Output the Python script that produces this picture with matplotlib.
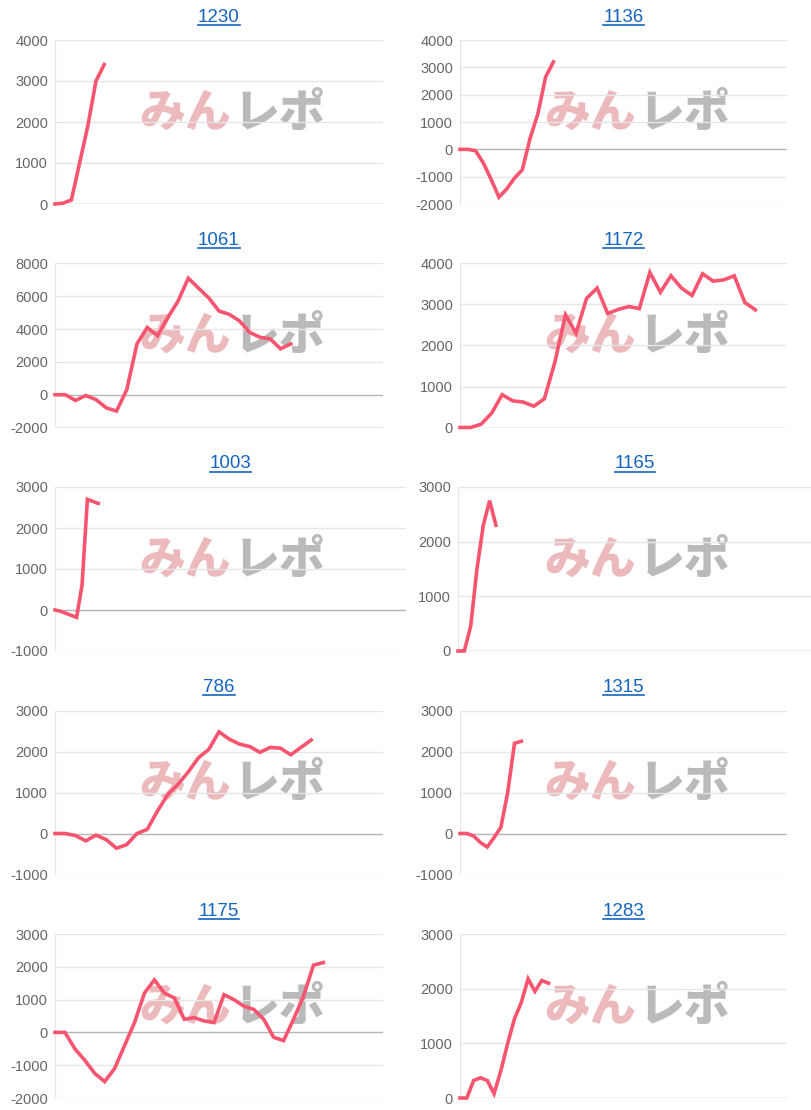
import matplotlib
matplotlib.use("Agg")
import matplotlib.pyplot as plt
from matplotlib.lines import Line2D

plt.rcParams["font.family"] = ["Liberation Sans", "DejaVu Sans"]

# chart data (index = draw number, value = cumulative diff)
titles = ["1230", "1136", "1061", "1172", "1003", "1165", "786", "1315", "1175", "1283"]

v1230 = [0, 20, 100, 1000, 1900, 3000, 3400]
v1136 = [0, 0, -50, -500, -1100, -1750, -1450, -1050, -750, 400, 1300, 2650, 3200]
v1061 = [0, 0, -350, -50, -300, -800, -1000, 300, 3100, 4100, 3600, 4700, 5700, 7100,
         6500, 5900, 5100, 4900, 4500, 3800, 3500, 3400, 2800, 3100]
v1172 = [0, 0, 80, 350, 800, 650, 620, 520, 700, 1600, 2750, 2300, 3150, 3400, 2780,
         2880, 2950, 2900, 3780, 3300, 3700, 3400, 3220, 3750, 3570, 3600, 3700, 3050, 2870]
v1003 = [0, -30, -80, -130, -180, 600, 2700, 2650, 2600]
v1165 = [0, 0, 450, 1500, 2300, 2750, 2300]
v786 = [0, 0, -50, -180, -40, -150, -360, -270, 0, 100, 550, 950, 1200, 1500, 1850,
        2050, 2480, 2300, 2180, 2120, 1980, 2100, 2080, 1920, 2100, 2280]
v1315 = [0, 0, -60, -220, -330, -100, 150, 1000, 2200, 2250]
v1175 = [0, 0, -500, -850, -1250, -1500, -1100, -400, 300, 1200, 1600, 1200, 1050, 400,
         450, 350, 300, 1150, 1000, 800, 700, 400, -150, -250, 400, 1100, 2050, 2130]
v1283 = [0, 0, 320, 370, 320, 80, 500, 1000, 1450, 1750, 2180, 1950, 2150, 2100]

series = [v1230, v1136, v1061, v1172, v1003, v1165, v786, v1315, v1175, v1283]
x_max = [40, 42, 32, 31, 65, 56, 32, 48, 33, 48]
y_ranges = [(0, 4000), (-2000, 4000), (-2000, 8000), (0, 4000), (-1000, 3000),
            (0, 3000), (-1000, 3000), (-1000, 3000), (-2000, 3000), (0, 3000)]
y_steps = [1000, 1000, 2000, 1000, 1000, 1000, 1000, 1000, 1000, 1000]

W, H = 812, 1110
fig = plt.figure(figsize=(W / 100, H / 100), dpi=100)

line_color = "#f6546f"
title_texts = []
for i, (title, vals) in enumerate(zip(titles, series)):
    row, col = divmod(i, 2)
    left = 55 if col == 0 else 460
    right = 383 if col == 0 else 787
    if title == "1003":
        right = 406
    if title == "1165":
        left, right = 458, 812
    top = 40 + 223.5 * row
    bottom = top + 164
    ax = fig.add_axes([left / W, 1 - bottom / H, (right - left) / W, (bottom - top) / H])
    lo, hi = y_ranges[i]
    ax.set_ylim(lo, hi)
    ax.set_xlim(0, x_max[i])
    ticks = list(range(lo, hi + 1, y_steps[i]))
    ax.set_yticks(ticks)
    ax.set_yticklabels([str(t) for t in ticks])
    ax.set_xticks([])
    for t in ticks:
        ax.axhline(t, color="#b5b5b5" if t == 0 else "#e6e6e6", lw=1, zorder=0)
    for s in ax.spines.values():
        s.set_visible(False)
    ax.axvline(0, color="#e6e6e6", lw=1, zorder=0)
    ax.tick_params(axis="y", length=0, labelsize=10.5, labelcolor="#666666", pad=5)
    ax.patch.set_alpha(0)

    # watermark, fixed per column
    wx = (231 if col == 0 else 636) / W
    wy = 1 - (113 + 223.5 * row) / H
    fig.text(wx, wy, "みん", ha="right", va="center", fontsize=33, fontweight="heavy",
             color="#e8a9ab", alpha=0.8, family=["Noto Sans CJK JP"], zorder=1)
    fig.text(wx + 3 / W, wy, "レポ", ha="left", va="center", fontsize=33,
             fontweight="heavy", color="#b3b3b3", alpha=0.9,
             family=["Noto Sans CJK JP"], zorder=1)

    ax.plot(range(len(vals)), vals, color=line_color, lw=2.6, zorder=3,
            solid_joinstyle="miter", clip_on=False)
    ax.set_zorder(2)

    cx = (left + right) / 2 / W
    title_texts.append(fig.text(cx, 1 - (17 + 223.5 * row) / H, title, ha="center",
                                va="center", fontsize=13.5, color="#1565c0"))

# underline titles
fig.canvas.draw()
r = fig.canvas.get_renderer()
for t in title_texts:
    bb = t.get_window_extent(r)
    y = (bb.y0 + 1) / H
    fig.add_artist(Line2D([bb.x0 / W, bb.x1 / W], [y, y], color="#1565c0", lw=1.2))

fig.savefig("out.png", dpi=100, facecolor="white")
